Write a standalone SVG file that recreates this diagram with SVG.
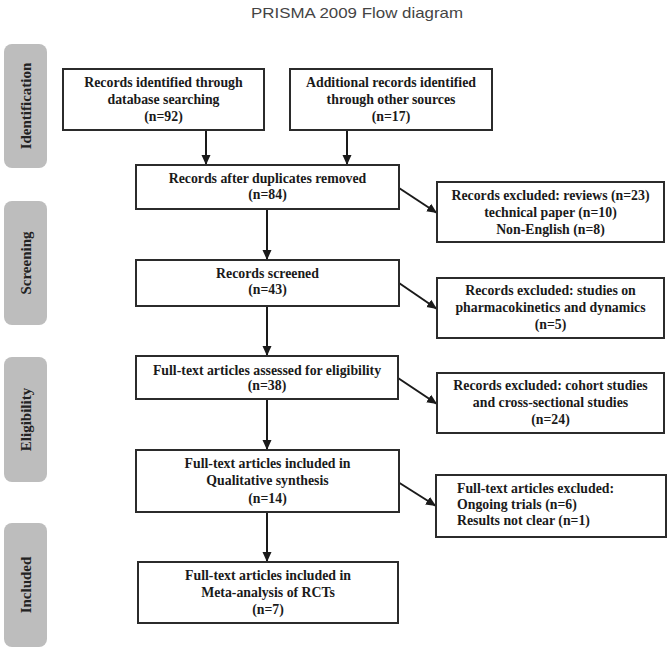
<svg xmlns="http://www.w3.org/2000/svg" width="670" height="653" viewBox="0 0 670 653">
<style>
.bg{fill:#ffffff}
.title{font-family:"Liberation Sans",Arial,sans-serif;font-size:15px;fill:#444}
.bar{fill:#bdbdbd}
.side{font-family:"Liberation Serif","Times New Roman",serif;font-weight:bold;font-size:15px;fill:#222;text-anchor:middle}
.box{fill:#ffffff;stroke:#2b2b2b;stroke-width:2}
.t{font-family:"Liberation Serif","Times New Roman",serif;font-weight:bold;font-size:13.8px;fill:#1a1a1a;text-anchor:middle}
.tl{font-family:"Liberation Serif","Times New Roman",serif;font-weight:bold;font-size:13.8px;fill:#1a1a1a}
.c{stroke:#1a1a1a;stroke-width:2;fill:none}
</style>
<defs>
<marker id="ah" markerUnits="userSpaceOnUse" markerWidth="10" markerHeight="10" refX="10" refY="5" orient="auto">
<path d="M0,0.5 L10,5 L0,9.5 Z" fill="#1a1a1a"/>
</marker>
</defs>
<rect class="bg" x="0" y="0" width="670" height="653"/>
<text class="title" x="357" y="18" text-anchor="middle" textLength="212" lengthAdjust="spacingAndGlyphs">PRISMA 2009 Flow diagram</text>

<g id="phase-identification">
<rect class="bar" x="4" y="44" width="43" height="124" rx="8"/>
<text class="side" transform="translate(31,106) rotate(-90)">Identification</text>
</g>
<g id="phase-screening">
<rect class="bar" x="4" y="201" width="43" height="124" rx="8"/>
<text class="side" transform="translate(31,263) rotate(-90)">Screening</text>
</g>
<g id="phase-eligibility">
<rect class="bar" x="4" y="357" width="43" height="125" rx="8"/>
<text class="side" transform="translate(31,419.5) rotate(-90)">Eligibility</text>
</g>
<g id="phase-included">
<rect class="bar" x="4" y="523" width="43" height="124" rx="8"/>
<text class="side" transform="translate(31,585) rotate(-90)">Included</text>
</g>

<g id="connectors">
<line class="c" x1="206" y1="130" x2="206" y2="165" marker-end="url(#ah)"/>
<line class="c" x1="347" y1="130" x2="347" y2="165" marker-end="url(#ah)"/>
<line class="c" x1="267" y1="209" x2="267" y2="260" marker-end="url(#ah)"/>
<line class="c" x1="267" y1="306" x2="267" y2="356" marker-end="url(#ah)"/>
<line class="c" x1="267" y1="399" x2="267" y2="450" marker-end="url(#ah)"/>
<line class="c" x1="267" y1="512" x2="267" y2="562" marker-end="url(#ah)"/>
<line class="c" x1="399" y1="188" x2="437" y2="213" marker-end="url(#ah)"/>
<line class="c" x1="399" y1="283" x2="437" y2="309" marker-end="url(#ah)"/>
<line class="c" x1="398" y1="378" x2="437" y2="404" marker-end="url(#ah)"/>
<line class="c" x1="398" y1="482" x2="436" y2="506" marker-end="url(#ah)"/>
</g>

<g id="n-database">
<rect class="box" x="63" y="69" width="201" height="61"/>
<text class="t" x="163.5" y="87">Records identified through</text>
<text class="t" x="163.5" y="104">database searching</text>
<text class="t" x="163.5" y="121">(n=92)</text>
</g>
<g id="n-other">
<rect class="box" x="290" y="69" width="202" height="61"/>
<text class="t" x="391" y="87">Additional records identified</text>
<text class="t" x="391" y="104">through other sources</text>
<text class="t" x="391" y="121">(n=17)</text>
</g>
<g id="n-duplicates">
<rect class="box" x="136" y="165" width="263" height="44"/>
<text class="t" x="267.5" y="183">Records after duplicates removed</text>
<text class="t" x="267.5" y="199">(n=84)</text>
</g>
<g id="n-excl1">
<rect class="box" x="437" y="182" width="227" height="60"/>
<text class="t" x="550.5" y="200">Records excluded: reviews (n=23)</text>
<text class="t" x="550.5" y="217">technical paper (n=10)</text>
<text class="t" x="550.5" y="234">Non-English (n=8)</text>
</g>
<g id="n-screened">
<rect class="box" x="136" y="260" width="263" height="46"/>
<text class="t" x="267.5" y="278">Records screened</text>
<text class="t" x="267.5" y="294">(n=43)</text>
</g>
<g id="n-excl2">
<rect class="box" x="437" y="278" width="227" height="60"/>
<text class="t" x="550.5" y="295">Records excluded: studies on</text>
<text class="t" x="550.5" y="312">pharmacokinetics and dynamics</text>
<text class="t" x="550.5" y="329">(n=5)</text>
</g>
<g id="n-assessed">
<rect class="box" x="136" y="356" width="262" height="43"/>
<text class="t" x="267" y="375">Full-text articles assessed for eligibility</text>
<text class="t" x="267" y="390">(n=38)</text>
</g>
<g id="n-excl3">
<rect class="box" x="437" y="373" width="227" height="60"/>
<text class="t" x="550.5" y="390">Records excluded: cohort studies</text>
<text class="t" x="550.5" y="407">and cross-sectional studies</text>
<text class="t" x="550.5" y="424">(n=24)</text>
</g>
<g id="n-qualitative">
<rect class="box" x="136" y="450" width="263" height="62"/>
<text class="t" x="267.5" y="468">Full-text articles included in</text>
<text class="t" x="267.5" y="485">Qualitative synthesis</text>
<text class="t" x="267.5" y="503">(n=14)</text>
</g>
<g id="n-excl4">
<rect class="box" x="436" y="475" width="230" height="62"/>
<text class="tl" x="457" y="493">Full-text articles excluded:</text>
<text class="tl" x="457" y="509">Ongoing trials (n=6)</text>
<text class="tl" x="457" y="525">Results not clear (n=1)</text>
</g>
<g id="n-meta">
<rect class="box" x="138" y="562" width="260" height="61"/>
<text class="t" x="268" y="580">Full-text articles included in</text>
<text class="t" x="268" y="597">Meta-analysis of RCTs</text>
<text class="t" x="268" y="614">(n=7)</text>
</g>
</svg>
